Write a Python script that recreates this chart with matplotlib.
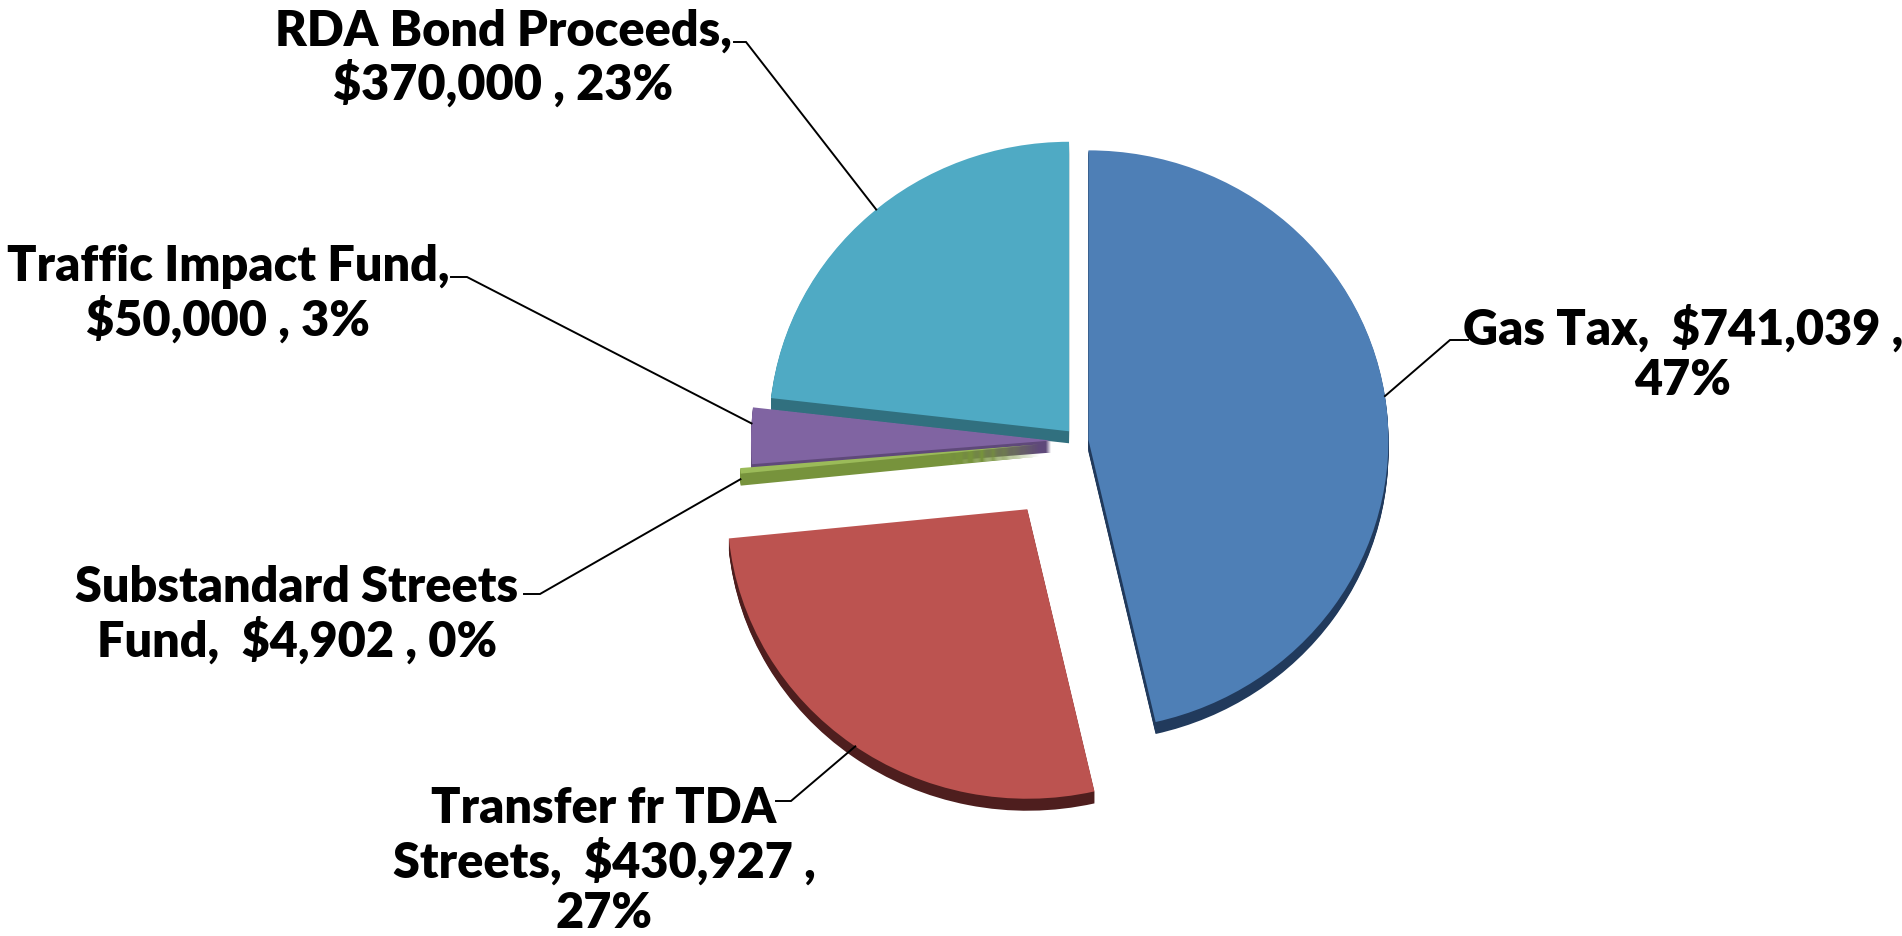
import numpy as np
import matplotlib
matplotlib.use("Agg")
import matplotlib.pyplot as plt

# ---- data ----
categories = ["Gas Tax", "Transfer fr TDA Streets", "Substandard Streets Fund",
              "Traffic Impact Fund", "RDA Bond Proceeds"]
amounts = [741039, 430927, 4902, 50000, 370000]
label_texts = ["Gas Tax,  $741,039 ,\n47%",
               "Transfer fr TDA\nStreets,  $430,927 ,\n27%",
               "Substandard Streets\nFund,  $4,902 , 0%",
               "Traffic Impact Fund,\n$50,000 , 3%",
               "RDA Bond Proceeds,\n$370,000 , 23%"]

# ---- style ----
top_colors = ["#4E7FB6", "#BC5350", "#9BBB59", "#8064A2", "#4FAAC4"]
side_colors = ["#213A5C", "#4E1E1E", "#77933C", "#5F497A", "#31707F"]
explode_frac = [0.035, 0.29, 0.13, 0.09, 0.045]
W, H = 1902, 936
SQ = 0.965          # slight vertical squash (tilted view)


def py(y_pix):
    """pixel row (from top) -> data y"""
    return (H - y_pix) / SQ


cx, cy = 1078, py(441)
R = 300
depth = 12 / SQ
explode = [e * R for e in explode_frac]

fig = plt.figure(figsize=(W / 100, H / 100), dpi=100)
ax = fig.add_axes([0, 0, 1, 1])

# 3D side (extrusion) layers
n_layers = 12
for k in range(n_layers, 0, -1):
    d = depth * k / n_layers
    ax.pie(amounts, explode=explode, colors=side_colors, startangle=90,
           counterclock=False, radius=R, center=(cx, cy - d),
           wedgeprops=dict(linewidth=0), frame=True)
# top faces
wedges, _ = ax.pie(amounts, explode=explode, colors=top_colors, startangle=90,
                   counterclock=False, radius=R, center=(cx, cy),
                   wedgeprops=dict(linewidth=0), frame=True)
ax.set_xlim(0, W)
ax.set_ylim(0, H / SQ)
ax.set_aspect("auto")
ax.axis("off")

# label placement (layout)
text_pos = [(1683, py(354)), (604, py(861)), (297, py(615)), (228, py(294)), (503, py(58))]
anchor_ang = [8.7, -125, None, 176.6, 130]
elbows = [[(1468, py(340)), (1450, py(340))],
          [(776, py(801)), (791, py(801))],
          [(524, py(594)), (540, py(594))],
          [(451, py(277)), (467, py(277))],
          [(734, py(42)), (746, py(42))]]

for i, w in enumerate(wedges):
    wx, wy = w.center
    a = anchor_ang[i]
    dy = 0
    if a is None:
        a = (w.theta1 + w.theta2) / 2
        dy = -depth * 0.7
    ax_pt = (wx + w.r * np.cos(np.radians(a)), wy + w.r * np.sin(np.radians(a)) + dy)
    (x0, y0), (x1, y1) = elbows[i]
    ax.plot([x0, x1, ax_pt[0]], [y0, y1, ax_pt[1]], color="black", lw=1.4,
            solid_joinstyle="miter")
    ax.text(text_pos[i][0], text_pos[i][1], label_texts[i], ha="center", va="center",
            multialignment="center", fontsize=35, fontweight="heavy",
            family=["Lato", "DejaVu Sans"], linespacing=1.15, color="black")

fig.savefig("out.png", dpi=100, facecolor="white")
